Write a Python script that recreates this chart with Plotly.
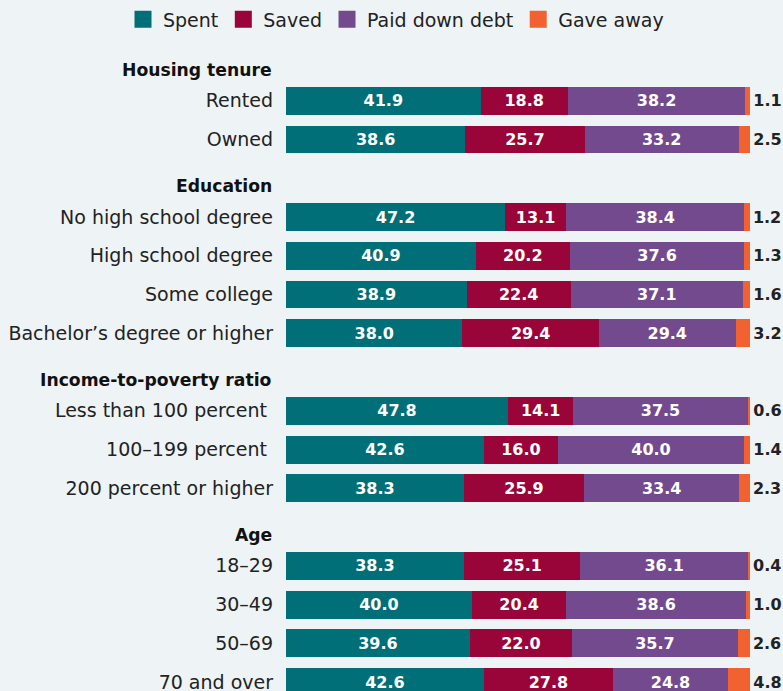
import plotly.graph_objects as go

# ---- data ----
groups = ["Housing tenure", "Education", "Income-to-poverty ratio", "Age"]
group_rows = [
    ["Rented", "Owned"],
    ["No high school degree", "High school degree", "Some college", "Bachelor’s degree or higher"],
    ["Less than 100 percent ", "100–199 percent ", "200 percent or higher"],
    ["18–29", "30–49", "50–69", "70 and over"],
]
spent = [41.9, 38.6, 47.2, 40.9, 38.9, 38.0, 47.8, 42.6, 38.3, 38.3, 40.0, 39.6, 42.6]
saved = [18.8, 25.7, 13.1, 20.2, 22.4, 29.4, 14.1, 16.0, 25.9, 25.1, 20.4, 22.0, 27.8]
paid_debt = [38.2, 33.2, 38.4, 37.6, 37.1, 29.4, 37.5, 40.0, 33.4, 36.1, 38.6, 35.7, 24.8]
gave_away = [1.1, 2.5, 1.2, 1.3, 1.6, 3.2, 0.6, 1.4, 2.3, 0.4, 1.0, 2.6, 4.8]

series_names = ["Spent", "Saved", "Paid down debt", "Gave away"]
colors = ["#006F77", "#990538", "#744A8E", "#F26130"]

# build category list with header rows (empty)
cats, ticktext, header_keys, rows = [], [], [], []
for g, rs in zip(groups, group_rows):
    key = "hdr_" + g
    cats.append(key)
    ticktext.append("")
    header_keys.append(key)
    for r in rs:
        cats.append(r)
        ticktext.append(r)
        rows.append(r)

FONT = "DejaVu Sans"
fig = go.Figure()
for i, (name, vals, col) in enumerate(zip(series_names, [spent, saved, paid_debt, gave_away], colors)):
    last = i == 3
    fig.add_trace(go.Bar(
        y=rows, x=vals, name=name, orientation="h",
        marker=dict(color=col, line=dict(width=0)),
        text=[f"{v:.1f}" for v in vals],
        texttemplate="<b>%{text}</b>",
        textposition="outside" if last else "inside",
        insidetextanchor="middle",
        constraintext="none",
        cliponaxis=False,
        textfont=dict(family=FONT, size=16, color="#222222" if last else "white"),
        width=0.72,
        hoverinfo="skip",
        showlegend=False,
        legendgroup=name,
    ))

# legend entries (larger swatches, same series)
for name, col in zip(series_names, colors):
    fig.add_trace(go.Bar(
        y=[None], x=[None], name=name, orientation="h",
        marker=dict(color=col, line=dict(color=col, width=5)),
        showlegend=True, legendgroup=name, hoverinfo="skip",
    ))

for g, key in zip(groups, header_keys):
    fig.add_annotation(
        x=0, xref="paper", xanchor="right", xshift=-12,
        y=key, yref="y", yshift=-8, yanchor="middle",
        text=f"<b>{g}</b>", showarrow=False,
        font=dict(family=FONT, size=17.2, color="#111111"),
    )

L, R, T = 286, 28, 40
plot_w = 783 - L - R
plot_h = 691 - T
fig.update_layout(
    width=783, height=691,
    barmode="stack",
    paper_bgcolor="#EEF3F6", plot_bgcolor="#EEF3F6",
    margin=dict(l=L, r=R, t=T, b=0, autoexpand=False),
    font=dict(family=FONT, size=18, color="#222222"),
    showlegend=True,
    legend=dict(orientation="h", x=(123 - L) / plot_w, xanchor="left",
                y=1 + (T - 19.5) / plot_h, yanchor="middle",
                traceorder="normal",
                font=dict(family=FONT, size=19, color="#222222"),
                itemwidth=30, bgcolor="rgba(0,0,0,0)"),
)
fig.update_xaxes(range=[0, 101], visible=False, fixedrange=True)
fig.update_yaxes(
    categoryorder="array", categoryarray=cats,
    tickmode="array", tickvals=cats, ticktext=ticktext,
    range=[len(cats) - 1 + 0.23, -0.568],
    showgrid=False, zeroline=False, showline=False, ticks="",
    ticklabelstandoff=12,
    tickfont=dict(family=FONT, size=19, color="#222222"),
)
fig.write_html("out.html", config={"displayModeBar": False},
               post_script="document.body.style.margin='0';document.body.style.background='#EEF3F6';")
